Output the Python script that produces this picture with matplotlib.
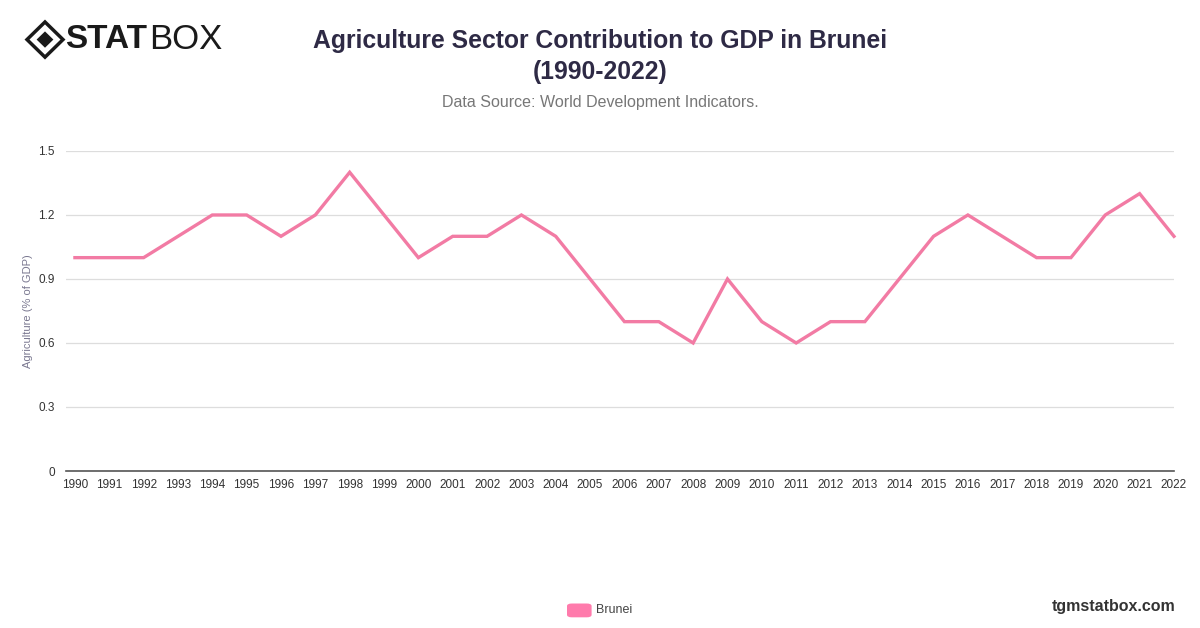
import matplotlib.pyplot as plt
from matplotlib.patches import FancyBboxPatch, Polygon

# Data
years = list(range(1990, 2023))
agri_share = [1.0, 1.0, 1.0, 1.1, 1.2, 1.2, 1.1, 1.2, 1.4, 1.2,
              1.0, 1.1, 1.1, 1.2, 1.1, 0.9, 0.7, 0.7, 0.6, 0.9,
              0.7, 0.6, 0.7, 0.7, 0.9, 1.1, 1.2, 1.1, 1.0, 1.0,
              1.2, 1.3, 1.1]
y_ticks = [0, 0.3, 0.6, 0.9, 1.2, 1.5]
y_tick_labels = ['0', '0.3', '0.6', '0.9', '1.2', '1.5']

plt.rcParams['font.family'] = ['Liberation Sans', 'DejaVu Sans']

fig = plt.figure(figsize=(12, 6.28), dpi=100)
ax = fig.add_axes([0.055, 0.25, 0.9233, 0.5096])

ax.plot(years, agri_share, color='#f27ba4', linewidth=2.4,
        solid_joinstyle='miter', clip_on=False)

ax.set_xlim(1989.74, 2022)
ax.set_ylim(0, 1.5)
ax.set_xticks(years)
ax.set_xticklabels([str(y) for y in years], fontsize=8.5, color='#333333')
ax.set_yticks(y_ticks)
ax.set_yticklabels(y_tick_labels, fontsize=8.5, color='#333333')
ax.tick_params(axis='x', length=0, pad=6)
ax.tick_params(axis='y', length=0, pad=8)
ax.grid(axis='y', color='#dddddd', linewidth=0.9)
ax.set_axisbelow(True)
for s in ['top', 'right', 'left']:
    ax.spines[s].set_visible(False)
ax.spines['bottom'].set_color('#555555')
ax.spines['bottom'].set_linewidth(1.2)

ax.set_ylabel('Agriculture (% of GDP)', fontsize=8, color='#7a7890')
ax.yaxis.set_label_coords(-0.03, 0.5)

# Title and source
fig.text(0.5, 0.935, 'Agriculture Sector Contribution to GDP in Brunei',
         ha='center', va='center', fontsize=17.8, fontweight='bold', color='#2e2a45')
fig.text(0.5, 0.885, '(1990-2022)',
         ha='center', va='center', fontsize=17.8, fontweight='bold', color='#2e2a45')
fig.text(0.5, 0.837, 'Data Source: World Development Indicators.',
         ha='center', va='center', fontsize=11.5, color='#777777')

# Logo
d = Polygon([(0.0225, 0.937), (0.0375, 0.965), (0.0525, 0.937), (0.0375, 0.909)],
            closed=True, transform=fig.transFigure, facecolor='none',
            edgecolor='#1a1a1a', linewidth=2.5)
fig.patches.append(d)
d2 = Polygon([(0.0305, 0.937), (0.0375, 0.950), (0.0445, 0.937), (0.0375, 0.924)],
             closed=True, transform=fig.transFigure, facecolor='#1a1a1a',
             edgecolor='none')
fig.patches.append(d2)
fig.text(0.054, 0.937, 'STAT', ha='left', va='center', fontsize=24,
         fontweight='heavy', color='#1a1a1a')
fig.text(0.124, 0.937, 'BOX', ha='left', va='center', fontsize=25,
         fontweight='light', color='#1a1a1a')

# Legend
lp = FancyBboxPatch((0.4725, 0.017), 0.0205, 0.022,
                    boxstyle='round,pad=0,rounding_size=0.004',
                    transform=fig.transFigure, facecolor='#ff7bac', edgecolor='none')
fig.patches.append(lp)
fig.text(0.497, 0.028, 'Brunei', ha='left', va='center', fontsize=9, color='#444444')

fig.text(0.98, 0.035, 'tgmstatbox.com', ha='right', va='center', fontsize=11.5,
         fontweight='bold', color='#333333')

fig.savefig('out.png', dpi=100)
